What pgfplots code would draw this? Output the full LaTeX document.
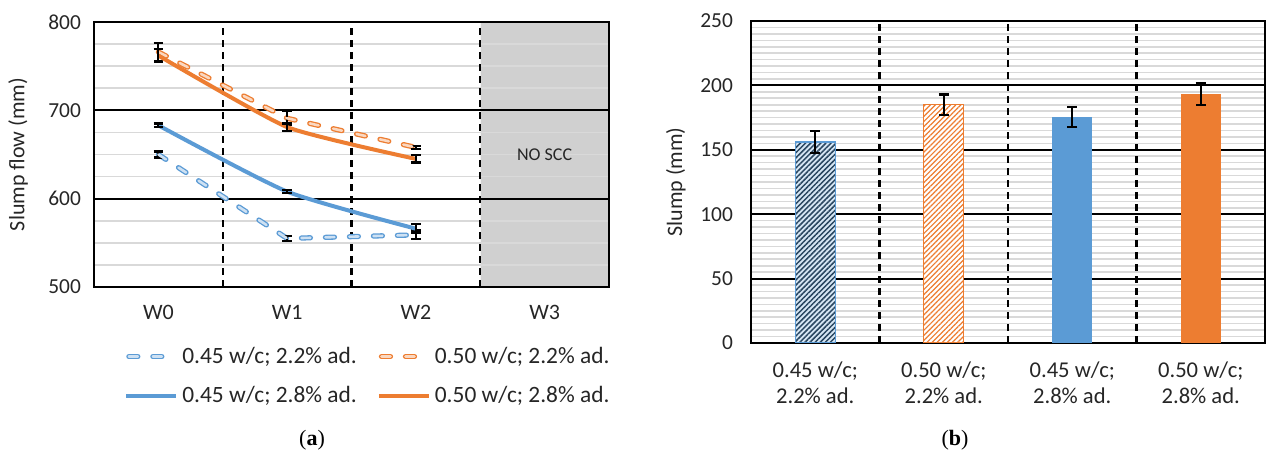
\documentclass[border=0pt]{standalone}
\usepackage{pgfplots}
\pgfplotsset{compat=1.18}
\usepackage{fontspec}
\setmainfont{Carlito}
\newfontfamily\capfont{Liberation Serif}
\usetikzlibrary{patterns.meta}
\definecolor{xblue}{HTML}{5B9BD5}
\definecolor{xorange}{HTML}{ED7D31}
\definecolor{xgray}{HTML}{D0D0D0}
\definecolor{xgrid}{HTML}{D9D9D9}
\definecolor{xtext}{HTML}{262626}
\pgfdeclarehorizontalshading{noscc}{100bp}{color(0bp)=(white); color(62.45bp)=(white); color(62.5bp)=(xgray); color(100bp)=(xgray)}
\tikzset{
  dashout/.style={line width=2.6pt, dash pattern=on 4.5pt off 7.5pt, line cap=round},
  dashin/.style={line width=1.3pt, dash pattern=on 4.5pt off 7.5pt, line cap=round},
  sep/.style={black, line width=1.1pt, dash pattern=on 3.5pt off 2.5pt},
}

\begin{document}
\begin{tikzpicture}
\useasboundingbox (0,0) rectangle (633pt,232.5pt);
\pgfplotsset{
  common/.style={
    scale only axis,
    anchor=south west,
    font=\fontsize{11}{13}\selectfont,
    axis line style={line width=1pt},
    major tick length=0pt, minor tick length=0pt,
    tick style={draw=none},
    ymajorgrids, yminorgrids,
    major y grid style={black, line width=1pt},
    minor y grid style={xgrid, line width=0.8pt},
    xmin=-0.5, xmax=3.5,
    xtick={0,1,2,3},
    ticklabel style={text=xtext},
    yticklabel style={font=\fontsize{10.7}{12}\selectfont},
    /pgf/number format/assume math mode=true,
    every axis y label/.style={rotate=90, anchor=center, text=xtext, font=\fontsize{11}{13}\selectfont},
  },
  eb/.style={error bars/.cd, y dir=both, y explicit,
    error bar style={solid, black, line width=1.1pt, line cap=butt},
    error mark options={solid, black, rotate=90, mark size=#1, line width=1.1pt}},
}
% ---------------- (a) ----------------
\begin{axis}[common,
  at={(47pt,89pt)},
  width=257.5pt, height=132.5pt,
  axis background/.style={shading=noscc},
  ymin=500, ymax=800, ytick={500,600,700,800}, minor y tick num=3,
  xticklabels={W0,W1,W2,W3},
  xticklabel style={yshift=-5.5pt},
  yticklabel style={xshift=-3pt},
  ylabel={Slump flow (mm)},
  every axis y label/.append style={at={(rel axis cs:-0.1476,0.5)}},
  legend columns=2,
  legend cell align=left,
  legend style={draw=none, fill=none, inner sep=0pt,
    at={(rel axis cs:0.058,-0.21)}, anchor=north west,
    font=\fontsize{11.7}{13}\selectfont, text=xtext,
    row sep=6pt,
    /tikz/every even column/.append style={column sep=8pt}},
]
% category separators
\addplot[sep, forget plot] coordinates {(0.5,500) (0.5,800)};
\addplot[sep, forget plot] coordinates {(1.5,500) (1.5,800)};
\addplot[sep, forget plot] coordinates {(2.5,500) (2.5,800)};
\node[font=\fontsize{9}{10}\selectfont, text=xtext] at (axis cs:3,650) {NO SCC};

% 0.45 w/c; 2.2% ad. (dashed blue)
\addplot[xblue, dashout, forget plot, eb=2.4pt]
  coordinates {(0,650) +- (0,3.5) (1,555) +- (0,3) (2,559) +- (0,5)};
\addplot[xblue!30!white, dashin, forget plot]
  coordinates {(0,650) (1,555) (2,559)};
% 0.50 w/c; 2.2% ad. (dashed orange)
\addplot[xorange, dashout, forget plot, eb=2.4pt]
  coordinates {(0,766) +- (0,10) (1,691) +- (0,8) (2,658) +- (0,2)};
\addplot[xorange!30!white, dashin, forget plot]
  coordinates {(0,766) (1,691) (2,658)};
% 0.45 w/c; 2.8% ad.
\addplot[xblue, line width=2pt, smooth, tension=0.35, forget plot, eb=2.4pt]
  coordinates {(0,683) +- (0,2) (1,608) +- (0,1.5) (2,566) +- (0,5)};
% 0.50 w/c; 2.8% ad.
\addplot[xorange, line width=2pt, smooth, tension=0.3, forget plot, eb=2.4pt]
  coordinates {(0,762) +- (0,7) (1,681) +- (0,4) (2,645) +- (0,4)};

\addlegendimage{legend image code/.code={
  \draw[xblue, dashout] (1.3pt,0pt) -- (20pt,0pt);
  \draw[xblue!30!white, dashin] (1.3pt,0pt) -- (20pt,0pt);}}
\addlegendentry{0.45 w/c; 2.2\% ad.}
\addlegendimage{legend image code/.code={
  \draw[xorange, dashout] (1.3pt,0pt) -- (20pt,0pt);
  \draw[xorange!30!white, dashin] (1.3pt,0pt) -- (20pt,0pt);}}
\addlegendentry{0.50 w/c; 2.2\% ad.}
\addlegendimage{legend image code/.code={
  \draw[xblue, line width=2pt] (0pt,0pt) -- (25pt,0pt);}}
\addlegendentry{0.45 w/c; 2.8\% ad.}
\addlegendimage{legend image code/.code={
  \draw[xorange, line width=2pt] (0pt,0pt) -- (25pt,0pt);}}
\addlegendentry{0.50 w/c; 2.8\% ad.}
\end{axis}
\node[font=\capfont\fontsize{11}{13}\selectfont] at (156pt,12.5pt) {(\textbf{a})};

% ---------------- (b) ----------------
\begin{axis}[common,
  at={(375.5pt,61pt)},
  width=257pt, height=161pt,
  ymin=0, ymax=250, ytick={0,50,...,250}, minor y tick num=9,
  xticklabels={{0.45 w/c;\\2.2\% ad.},{0.50 w/c;\\2.2\% ad.},{0.45 w/c;\\2.8\% ad.},{0.50 w/c;\\2.8\% ad.}},
  xticklabel style={align=center, yshift=-6pt, font=\fontsize{11.3}{13}\selectfont},
  yticklabel style={xshift=-5.5pt},
  ylabel={Slump (mm)},
  every axis y label/.append style={at={(rel axis cs:-0.146,0.5)}},
]
% category separators
\addplot[sep, forget plot] coordinates {(0.5,0) (0.5,250)};
\addplot[sep, forget plot] coordinates {(1.5,0) (1.5,250)};
\addplot[sep, forget plot] coordinates {(2.5,0) (2.5,250)};

\addplot[ybar, bar shift=0pt, bar width=0.31, draw=xblue, line width=0.6pt,
  fill=xblue!25!white,
  postaction={pattern={Lines[angle=45, distance=1.8pt, line width=0.75pt]}, pattern color=xblue!45!black},
  eb=2.6pt]
  coordinates {(0,156) +- (0,8.5)};
\addplot[ybar, bar shift=0pt, bar width=0.31, draw=xorange, line width=0.6pt,
  fill=white,
  postaction={pattern={Lines[angle=45, distance=1.8pt, line width=0.6pt]}, pattern color=xorange},
  eb=2.6pt]
  coordinates {(1,185) +- (0,8)};
\addplot[ybar, bar shift=0pt, bar width=0.31, draw=none, fill=xblue, eb=2.6pt]
  coordinates {(2,175.5) +- (0,8)};
\addplot[ybar, bar shift=0pt, bar width=0.31, draw=none, fill=xorange, eb=2.6pt]
  coordinates {(3,193.5) +- (0,8.5)};
\end{axis}
\node[font=\capfont\fontsize{11}{13}\selectfont] at (477.5pt,12.5pt) {(\textbf{b})};
\end{tikzpicture}
\end{document}
